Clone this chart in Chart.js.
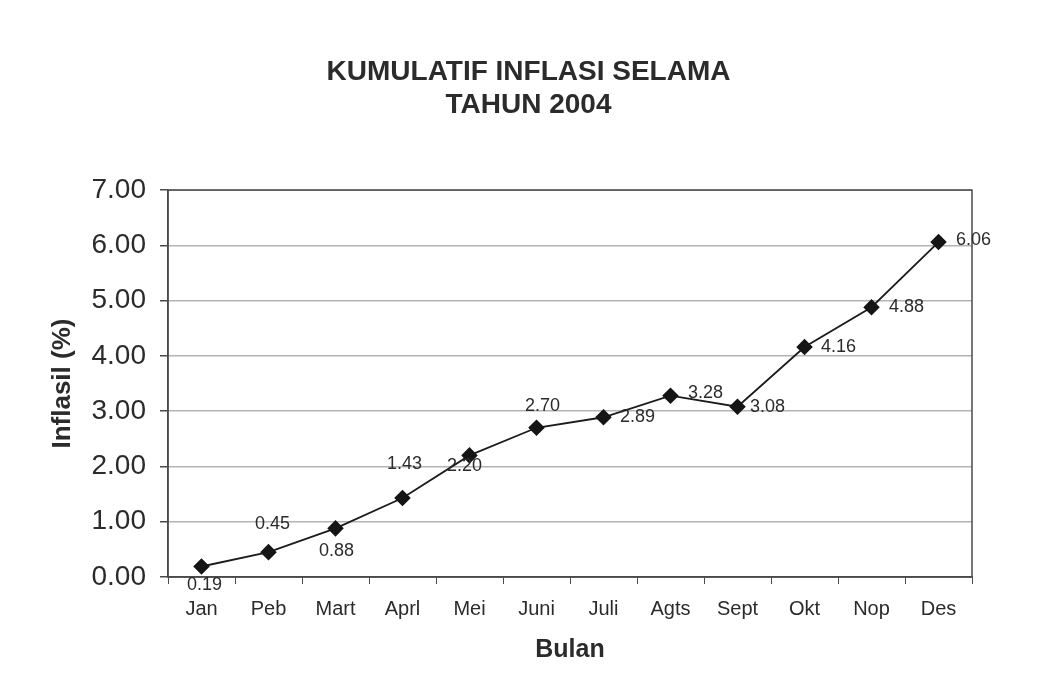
<!DOCTYPE html>
<html>
<head>
<meta charset="utf-8">
<script src="https://cdn.jsdelivr.net/npm/chart.js@4.4.1/dist/chart.umd.min.js"></script>
<style>
    html, body { margin: 0; padding: 0; background: #fff; }
    #wrap { position: relative; width: 1057px; height: 685px; }
</style>
</head>
<body>
<div id="wrap"><canvas id="inflasiChart"></canvas></div>
<script>
/* data */
const bulan = ["Jan", "Peb", "Mart", "Aprl", "Mei", "Juni", "Juli", "Agts", "Sept", "Okt", "Nop", "Des"];
const inflasiKumulatif = [0.19, 0.45, 0.88, 1.43, 2.20, 2.70, 2.89, 3.28, 3.08, 4.16, 4.88, 6.06];
const yTicks = [0, 1, 2, 3, 4, 5, 6, 7];

const FONT = "'Liberation Sans', Arial, sans-serif";
const TEXT = "#2b2b2b";

// label placement around each point (dx, dy) in px
const labelOffsets = [
    [3, 19], [4, -28], [1, 23], [2, -34], [-5, 11], [6, -22],
    [34, 0], [35, -3], [30, 0], [34, 0], [35, 0], [35, -2]
];

const frameAndLabels = {
    id: "frameAndLabels",
    afterDatasetsDraw(chart) {
        const { ctx, chartArea } = chart;
        ctx.save();
        ctx.strokeStyle = "#4a4a4a";
        ctx.lineWidth = 1.5;
        ctx.strokeRect(chartArea.left, chartArea.top,
            chartArea.right - chartArea.left, chartArea.bottom - chartArea.top);

        const meta = chart.getDatasetMeta(0);
        ctx.font = "18px " + FONT;
        ctx.fillStyle = TEXT;
        ctx.textAlign = "center";
        ctx.textBaseline = "middle";
        meta.data.forEach((pt, i) => {
            const off = labelOffsets[i] || [0, -20];
            ctx.fillText(inflasiKumulatif[i].toFixed(2), pt.x + off[0], pt.y + off[1]);
        });
        ctx.restore();
    }
};

const canvas = document.getElementById("inflasiChart");

new Chart(canvas.getContext("2d"), {
    type: "line",
    data: {
        labels: bulan,
        datasets: [
            {
                label: "Kumulatif inflasi",
                data: inflasiKumulatif,
                borderColor: "#1c1c1c",
                borderWidth: 1.8,
                tension: 0,
                fill: false,
                yAxisID: "y",
                pointStyle: "rectRot",
                pointRadius: 7,
                pointBackgroundColor: "#151515",
                pointBorderColor: "#151515"
            }
        ]
    },
    options: {
        responsive: true,
        maintainAspectRatio: false,
        animation: false,
        layout: { padding: { left: 0, right: 0, top: 0, bottom: 0 } },
        plugins: {
            legend: { display: false },
            tooltip: { enabled: false },
            title: {
                display: true,
                text: ["KUMULATIF INFLASI SELAMA", "TAHUN 2004"],
                color: TEXT,
                font: { family: FONT, size: 28, weight: "bold", lineHeight: 1.18 },
                padding: { top: 56, bottom: 68 }
            }
        },
        scales: {
            x: {
                offset: true,
                grid: {
                    offset: true,
                    drawOnChartArea: false,
                    tickLength: 7,
                    tickColor: "#4a4a4a"
                },
                border: { color: "#4a4a4a", width: 1.5 },
                ticks: {
                    color: TEXT,
                    padding: 13,
                    maxRotation: 0,
                    font: { family: FONT, size: 20 }
                },
                title: {
                    display: true,
                    text: "Bulan",
                    color: TEXT,
                    font: { family: FONT, size: 25, weight: "bold" },
                    padding: { top: 0, bottom: 20 }
                },
                afterFit(scale) { scale.height = 108; }
            },
            y: {
                min: 0,
                max: 7,
                afterBuildTicks(scale) {
                    scale.ticks = yTicks.map(v => ({ value: v }));
                },
                grid: {
                    color: "#b4b4b4",
                    lineWidth: 1.5,
                    tickLength: 8,
                    tickColor: "#4a4a4a"
                },
                border: { color: "#4a4a4a", width: 1.5 },
                ticks: {
                    color: TEXT,
                    padding: 14,
                    font: { family: FONT, size: 28 },
                    callback(value) {
                        return Number(value).toFixed(2);
                    }
                },
                title: {
                    display: true,
                    text: "Inflasil (%)",
                    color: TEXT,
                    font: { family: FONT, size: 26, weight: "bold" },
                    padding: { top: 47, bottom: 0 }
                },
                afterFit(scale) { scale.width = 168; }
            },
            // empty right-hand axis, only keeps the plot's right margin
            yRight: {
                position: "right",
                min: 0,
                max: 7,
                grid: { display: false },
                border: { display: false },
                ticks: { display: false },
                afterFit(scale) { scale.width = 85; }
            }
        }
    },
    plugins: [frameAndLabels]
});
</script>
</body>
</html>
